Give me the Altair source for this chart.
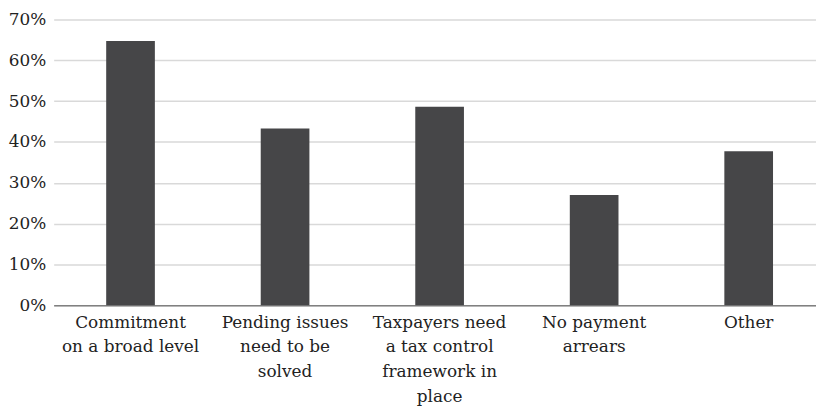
import altair as alt
import pandas as pd

categories = [
    "Commitment|on a broad level",
    "Pending issues|need to be|solved",
    "Taxpayers need|a tax control|framework in|place",
    "No payment|arrears",
    "Other",
]
values = [0.647, 0.433, 0.486, 0.270, 0.377]

df = pd.DataFrame({"category": categories, "value": values})

FONT = "DejaVu Serif"

chart = alt.Chart(df).mark_bar(color="#464648").encode(
    x=alt.X(
        "category:N",
        sort=categories,
        title=None,
        scale=alt.Scale(paddingInner=0.685, paddingOuter=0.309, align=0.55, round=False),
        axis=alt.Axis(
            labelAngle=0,
            labelExpr="split(datum.label, '|')",
            labelFont=FONT,
            labelFontSize=17,
            labelColor="#222222",
            labelLineHeight=25,
            labelPadding=9,
            labelBaseline="top",
            ticks=False,
            domainColor="#808080",
            domainWidth=1.5,
            grid=False,
        ),
    ),
    y=alt.Y(
        "value:Q",
        title=None,
        scale=alt.Scale(domain=[0, 0.7]),
        axis=alt.Axis(
            format=".0%",
            values=[0, 0.1, 0.2, 0.3, 0.4, 0.5, 0.6, 0.7],
            labelFont=FONT,
            labelFontSize=17,
            labelColor="#222222",
            labelPadding=8,
            ticks=False,
            domain=False,
            gridColor="#d9d9d9",
            gridWidth=1.5,
        ),
    ),
).properties(
    width=768,
    height=288,
    autosize=alt.AutoSizeParams(type="none"),
    padding={"left": 46, "top": 10, "right": 0, "bottom": 106},
).configure_view(stroke=None)

chart.save("out.html", embed_options={"renderer": "svg", "actions": False})
